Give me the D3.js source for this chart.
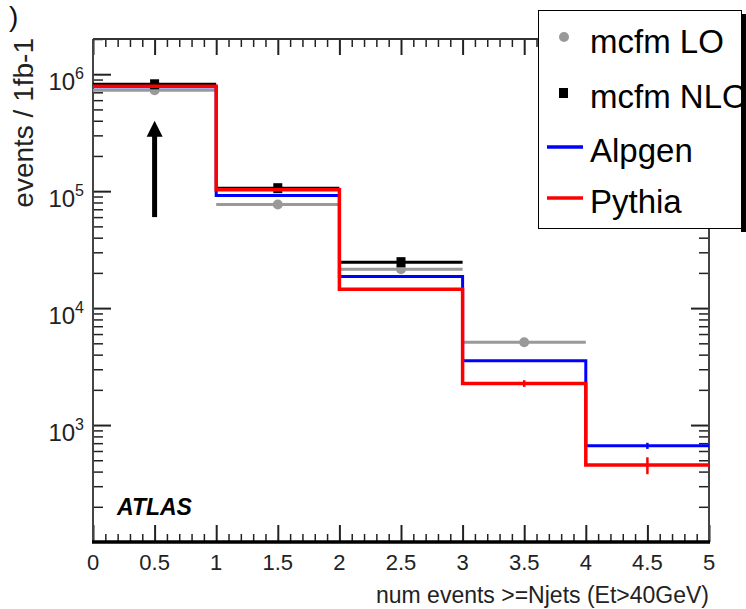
<!DOCTYPE html>
<html>
<head>
<meta charset="utf-8">
<script src="https://cdn.jsdelivr.net/npm/d3@7"></script>
<style>
  body { margin: 0; background: #fff; }
  svg { display: block; font-family: "Liberation Sans", Arial, sans-serif; }
</style>
</head>
<body>
<svg id="chart" width="746" height="609"></svg>
<script>
// Bin edges along x (num jets)
const binEdges = [0, 1, 2, 3, 4, 5];

// Histogram values per bin (events / 1fb-1)
const pythia = [790000, 103000, 14500, 2270, 455];
const alpgen = [780000, 92000, 18600, 3550, 665];
const pythiaErr = [0, 0, 0, 150, 75];
const alpgenErr = [0, 0, 0, 0, 40];

// mcfm points (bins 0..n)
const mcfmLO = [730000, 77000, 21500, 5100];
const mcfmNLO = [820000, 106000, 24700];

// Arrow annotation at x = 0.5
const arrowX = 0.5;
const arrowFrom = 60000;
const arrowTo = 400000;

// Axis ticks
const xMajorTicks = [0, 0.5, 1, 1.5, 2, 2.5, 3, 3.5, 4, 4.5, 5];
const xTickLabels = ['0', '0.5', '1', '1.5', '2', '2.5', '3', '3.5', '4', '4.5', '5'];
const yDecades = [1e3, 1e4, 1e5, 1e6];
const yDecadeExp = ['3', '4', '5', '6'];

const legendItems = [
  { label: 'mcfm LO', kind: 'circle', colour: '#999999' },
  { label: 'mcfm NLO', kind: 'square', colour: '#000000' },
  { label: 'Alpgen', kind: 'line', colour: '#0000ff' },
  { label: 'Pythia', kind: 'line', colour: '#ff0000' },
];

const svg = d3.select('#chart');

const margins = { left: 93, top: 39, right: 37, bottom: 67 };
const width = 746, height = 609;
const x0 = margins.left, x1 = width - margins.right;
const y0 = margins.top, y1 = height - margins.bottom;

const x = d3.scaleLinear().domain([0, 5]).range([x0, x1]);
const y = d3.scaleLog().domain([100, 2e6]).range([y1, y0]);

const xMinorTicks = d3.range(0, 51).map((d) => d / 10).filter((d) => Math.round(d * 10) % 5 !== 0);
const yMinorTicks = [];
[100, 1000, 10000, 100000, 1000000].forEach((dec) => {
  for (let k = 2; k <= 9; k++) {
    if (dec * k <= 2e6) yMinorTicks.push(dec * k);
  }
});

// Axes: major + minor ticks on all four sides
const tickStyle = (g, w) => {
  g.select('.domain').remove();
  g.selectAll('.tick line').attr('stroke', '#222').attr('stroke-width', w);
};

svg.append('g')
  .attr('transform', `translate(0, ${y1})`)
  .call(d3.axisBottom(x).tickValues(xMajorTicks).tickSize(-17).tickFormat(''))
  .call((g) => tickStyle(g, 2));
svg.append('g')
  .attr('transform', `translate(0, ${y1})`)
  .call(d3.axisBottom(x).tickValues(xMinorTicks).tickSize(-8).tickFormat(''))
  .call((g) => tickStyle(g, 1.5));
svg.append('g')
  .attr('transform', `translate(0, ${y0})`)
  .call(d3.axisTop(x).tickValues(xMajorTicks).tickSize(-16).tickFormat(''))
  .call((g) => tickStyle(g, 2));
svg.append('g')
  .attr('transform', `translate(0, ${y0})`)
  .call(d3.axisTop(x).tickValues(xMinorTicks).tickSize(-8).tickFormat(''))
  .call((g) => tickStyle(g, 1.5));

svg.append('g')
  .attr('transform', `translate(${x0}, 0)`)
  .call(d3.axisLeft(y).tickValues(yDecades).tickSize(-18).tickFormat(''))
  .call((g) => tickStyle(g, 2));
svg.append('g')
  .attr('transform', `translate(${x0}, 0)`)
  .call(d3.axisLeft(y).tickValues(yMinorTicks).tickSize(-10).tickFormat(''))
  .call((g) => tickStyle(g, 1.5));
svg.append('g')
  .attr('transform', `translate(${x1}, 0)`)
  .call(d3.axisRight(y).tickValues(yDecades).tickSize(-18).tickFormat(''))
  .call((g) => tickStyle(g, 2));
svg.append('g')
  .attr('transform', `translate(${x1}, 0)`)
  .call(d3.axisRight(y).tickValues(yMinorTicks).tickSize(-10).tickFormat(''))
  .call((g) => tickStyle(g, 1.5));

// Frame
svg.append('line').attr('x1', x0).attr('x2', x1).attr('y1', y0).attr('y2', y0)
  .attr('stroke', '#333').attr('stroke-width', 2);
svg.append('line').attr('x1', x0).attr('x2', x0).attr('y1', y0).attr('y2', y1)
  .attr('stroke', '#444').attr('stroke-width', 2);
svg.append('line').attr('x1', x1).attr('x2', x1).attr('y1', y0).attr('y2', y1)
  .attr('stroke', '#444').attr('stroke-width', 2);
svg.append('line').attr('x1', x0 - 1).attr('x2', x1 + 1).attr('y1', y1).attr('y2', y1)
  .attr('stroke', '#000').attr('stroke-width', 3.5);

// Tick labels
svg.append('g').selectAll('text')
  .data(xMajorTicks)
  .join('text')
  .attr('x', (d) => x(d))
  .attr('y', y1 + 28)
  .attr('text-anchor', 'middle')
  .style('font-size', '22px')
  .style('fill', '#222')
  .text((d, i) => xTickLabels[i]);

const yLabels = svg.append('g').selectAll('text')
  .data(yDecades)
  .join('text')
  .attr('x', x0 - 9)
  .attr('y', (d) => y(d) + 16)
  .attr('text-anchor', 'end')
  .style('font-size', '24px')
  .style('fill', '#222');
yLabels.append('tspan').text('10');
yLabels.append('tspan')
  .attr('dy', -11)
  .style('font-size', '16px')
  .text((d, i) => yDecadeExp[i]);

// Axis titles
svg.append('text')
  .attr('x', x1)
  .attr('y', 603)
  .attr('text-anchor', 'end')
  .style('font-size', '23px')
  .style('fill', '#222')
  .text('num events >=Njets (Et>40GeV)');

svg.append('text')
  .attr('transform', 'translate(33, 38) rotate(-90)')
  .attr('text-anchor', 'end')
  .style('font-size', '28px')
  .style('fill', '#222')
  .text('events / 1fb-1');

svg.append('text')
  .attr('x', 9)
  .attr('y', 26)
  .style('font-size', '28px')
  .style('fill', '#111')
  .text(')');

svg.append('text')
  .attr('x', 117)
  .attr('y', 515)
  .style('font-size', '23px')
  .style('font-weight', 'bold')
  .style('font-style', 'italic')
  .text('ATLAS');

// Data
const plot = svg.append('g');

const segments = (values) => values.map((v, i) => ({ lo: binEdges[i], hi: binEdges[i + 1], v }));

const drawSegments = (values, colour, w) => {
  plot.append('g').selectAll('line')
    .data(segments(values))
    .join('line')
    .attr('x1', (d) => x(d.lo))
    .attr('x2', (d) => x(d.hi))
    .attr('y1', (d) => y(d.v))
    .attr('y2', (d) => y(d.v))
    .attr('stroke', colour)
    .attr('stroke-width', w);
};

const stepLine = d3.line()
  .x((d) => x(d[0]))
  .y((d) => y(d[1]))
  .curve(d3.curveStepAfter);

const drawHist = (values, colour, w) => {
  const pts = values.map((v, i) => [binEdges[i], v]);
  pts.push([binEdges[values.length], values[values.length - 1]]);
  plot.append('path')
    .attr('d', stepLine(pts))
    .attr('fill', 'none')
    .attr('stroke', colour)
    .attr('stroke-width', w);
};

const drawErrors = (values, errs, colour, w) => {
  plot.append('g').selectAll('line')
    .data(values.map((v, i) => ({ c: (binEdges[i] + binEdges[i + 1]) / 2, v, e: errs[i] })).filter((d) => d.e > 0))
    .join('line')
    .attr('x1', (d) => x(d.c))
    .attr('x2', (d) => x(d.c))
    .attr('y1', (d) => y(d.v - d.e))
    .attr('y2', (d) => y(d.v + d.e))
    .attr('stroke', colour)
    .attr('stroke-width', w);
};

const centres = (values) => values.map((v, i) => ({ c: (binEdges[i] + binEdges[i + 1]) / 2, v }));

drawSegments(mcfmLO, '#999999', 3);
plot.append('g').selectAll('circle')
  .data(centres(mcfmLO))
  .join('circle')
  .attr('cx', (d) => x(d.c))
  .attr('cy', (d) => y(d.v))
  .attr('r', 5)
  .attr('fill', '#999999');

drawHist(alpgen, '#0000ff', 3);

drawSegments(mcfmNLO, '#000000', 3);
plot.append('g').selectAll('rect')
  .data(centres(mcfmNLO))
  .join('rect')
  .attr('x', (d) => x(d.c) - 4.5)
  .attr('y', (d) => y(d.v) - 5)
  .attr('width', 9)
  .attr('height', 10)
  .attr('fill', '#000');

drawHist(pythia, '#ff0000', 3.5);
drawErrors(alpgen, alpgenErr, '#0000ff', 2.5);
drawErrors(pythia, pythiaErr, '#ff0000', 2.5);

// Arrow
const ax = x(arrowX);
const tipY = y(arrowTo);
plot.append('line')
  .attr('x1', ax).attr('x2', ax)
  .attr('y1', y(arrowFrom)).attr('y2', tipY + 12)
  .attr('stroke', '#000').attr('stroke-width', 5);
plot.append('path')
  .attr('d', `M${ax},${tipY} L${ax - 8},${tipY + 16} L${ax + 8},${tipY + 16} Z`)
  .attr('fill', '#000');

// Legend
const legend = svg.append('g');
legend.append('rect')
  .attr('x', 741).attr('y', 14).attr('width', 5).attr('height', 218)
  .attr('fill', '#000');
legend.append('rect')
  .attr('x', 538.5).attr('y', 10.5).attr('width', 203).attr('height', 218)
  .attr('fill', '#fff').attr('stroke', '#000').attr('stroke-width', 1);

svg.append('clipPath').attr('id', 'legend-clip')
  .append('rect').attr('x', 539).attr('y', 11).attr('width', 202).attr('height', 217);

const rowY = [40, 95, 149, 200];
const items = legend.append('g')
  .attr('clip-path', 'url(#legend-clip)')
  .selectAll('g')
  .data(legendItems)
  .join('g')
  .attr('transform', (d, i) => `translate(0, ${rowY[i]})`);

items.append('text')
  .attr('x', 590)
  .attr('y', 13)
  .style('font-size', '33px')
  .style('fill', '#000')
  .text((d) => d.label);

items.filter((d) => d.kind === 'circle')
  .append('circle').attr('cx', 564).attr('cy', -3).attr('r', 5).attr('fill', (d) => d.colour);
items.filter((d) => d.kind === 'square')
  .append('rect').attr('x', 559).attr('y', -7).attr('width', 9).attr('height', 10).attr('fill', (d) => d.colour);
items.filter((d) => d.kind === 'line')
  .append('line').attr('x1', 547).attr('x2', 583).attr('y1', -2).attr('y2', -2)
  .attr('stroke', (d) => d.colour).attr('stroke-width', 3.5);
</script>
</body>
</html>
